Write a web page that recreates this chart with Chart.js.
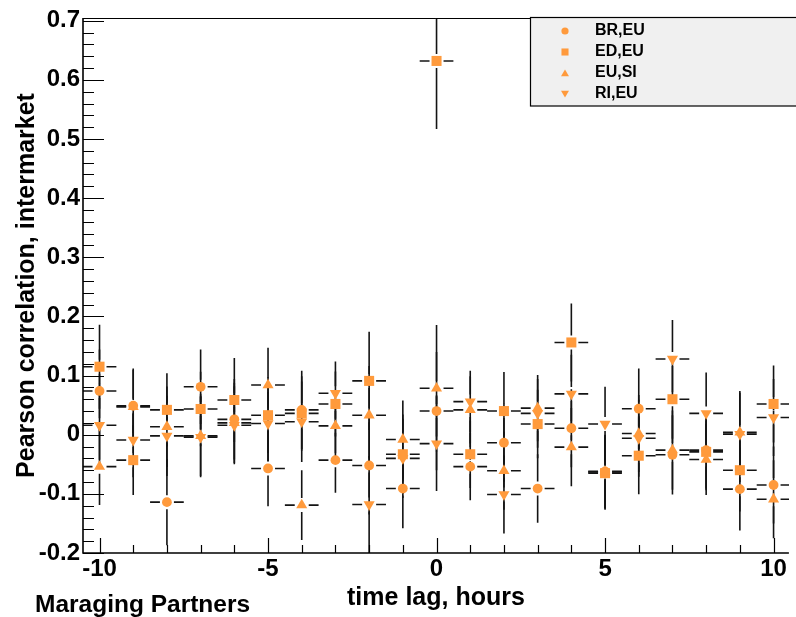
<!DOCTYPE html>
<html>
<head>
<meta charset="utf-8">
<script src="https://cdn.jsdelivr.net/npm/chart.js@4.4.1/dist/chart.umd.min.js"></script>
<style>
  body { margin: 0; background: #fff; }
  #contenedor { width: 796px; height: 617px; }
</style>
</head>
<body>
<div id="contenedor"><canvas id="correlacion"></canvas></div>
<script>
// desfase en horas
const lags = [-10, -9, -8, -7, -6, -5, -4, -3, -2, -1, 0, 1, 2, 3, 4, 5, 6, 7, 8, 9, 10]

// correlacion de Pearson por par de mercados
const brEu = [0.074, 0.049, -0.114, 0.081, 0.026, -0.057, 0.042, -0.043, -0.052, -0.091, 0.040, -0.054, -0.0135, -0.091, 0.011, -0.062, 0.044, -0.034, -0.026, -0.092, -0.085]
const edEu = [0.115, -0.043, 0.042, 0.0435, 0.0587, 0.033, 0.036, 0.052, 0.091, -0.033, 0.632, -0.033, 0.040, 0.018, 0.156, -0.065, -0.0355, 0.060, -0.029, -0.060, 0.052]
const euSi = [-0.054, 0.047, 0.0135, -0.002, 0.020, 0.084, -0.119, 0.015, 0.033, -0.008, 0.0785, 0.042, -0.061, 0.045, -0.021, -0.063, 0.002, -0.026, -0.042, 0.004, -0.109]
const riEu = [0.016, -0.009, -0.002, -0.004, 0.016, 0.019, 0.022, 0.070, -0.118, -0.040, -0.015, 0.056, -0.101, 0.036, 0.069, 0.018, -0.006, 0.128, 0.036, 0.001, 0.029]

// errores (barras verticales)
const errBrEu = [0.07, 0.063, 0.073, 0.063, 0.068, 0.064, 0.066, 0.055, 0.083, 0.067, 0.10, 0.057, 0.066, 0.058, 0.066, 0.062, 0.068, 0.067, 0.065, 0.07, 0.065]
const errEdEu = [0.071, 0.059, 0.062, 0.063, 0.071, 0.064, 0.063, 0.055, 0.083, 0.067, 0.115, 0.057, 0.066, 0.058, 0.066, 0.062, 0.065, 0.067, 0.065, 0.07, 0.065]
const errEuSi = [0.065, 0.063, 0.068, 0.068, 0.068, 0.063, 0.059, 0.055, 0.083, 0.066, 0.107, 0.057, 0.066, 0.056, 0.066, 0.062, 0.065, 0.067, 0.06, 0.07, 0.066]
const errRiEu = [0.07, 0.063, 0.068, 0.068, 0.066, 0.064, 0.068, 0.054, 0.082, 0.067, 0.08, 0.052, 0.066, 0.058, 0.066, 0.063, 0.065, 0.066, 0.069, 0.07, 0.065]

const xTicks = [-10, -5, 0, 5, 10]
const yTicks = [-0.2, -0.1, 0, 0.1, 0.2, 0.3, 0.4, 0.5, 0.6, 0.7]

const naranja = '#ff9a3c'

const serie = (nombre, valores, errores, estilo, radio, giro) => ({
    label: nombre,
    data: lags.map((x, i) => ({ x: x, y: valores[i] })),
    errores: errores,
    pointStyle: estilo,
    pointRadius: radio,
    pointRotation: giro,
    pointBackgroundColor: naranja,
    pointBorderWidth: 0,
    showLine: false
})

const datasets = [
    serie('BR,EU', brEu, errBrEu, 'circle', 4.9, 0),
    serie('ED,EU', edEu, errEdEu, 'rect', 7.1, 0),
    serie('EU,SI', euSi, errEuSi, 'triangle', 6.4, 0),
    serie('RI,EU', riEu, errRiEu, 'triangle', 6.4, 180)
]

const marcos = {
    id: 'marcos',
    beforeDatasetsDraw(chart) {
        const { ctx, chartArea: a, scales: { x, y } } = chart
        ctx.save()
        ctx.beginPath()
        ctx.rect(a.left, a.top, a.right - a.left, a.bottom - a.top)
        ctx.clip()
        ctx.strokeStyle = '#141414'
        ctx.lineWidth = 1.6
        const hueco = 7
        chart.data.datasets.forEach(ds => {
            ds.data.forEach((p, i) => {
                const px = x.getPixelForValue(p.x)
                const py = y.getPixelForValue(p.y)
                const arriba = y.getPixelForValue(p.y + ds.errores[i])
                const abajo = y.getPixelForValue(p.y - ds.errores[i])
                const izq = x.getPixelForValue(p.x - 0.5)
                const der = x.getPixelForValue(p.x + 0.5)
                ctx.beginPath()
                if (py - hueco > arriba) { ctx.moveTo(px, arriba); ctx.lineTo(px, py - hueco) }
                if (abajo > py + hueco) { ctx.moveTo(px, py + hueco); ctx.lineTo(px, abajo) }
                ctx.moveTo(izq, py); ctx.lineTo(px - hueco, py)
                ctx.moveTo(px + hueco, py); ctx.lineTo(der, py)
                ctx.stroke()
            })
        })
        ctx.restore()
    },
    afterDraw(chart) {
        const { ctx, chartArea: a, scales: { x, y } } = chart
        ctx.save()
        ctx.strokeStyle = '#000'
        // marco
        ctx.lineWidth = 1
        ctx.beginPath()
        ctx.moveTo(a.left, a.top + 0.5); ctx.lineTo(a.right, a.top + 0.5)
        ctx.stroke()
        ctx.lineWidth = 1.6
        ctx.beginPath()
        ctx.moveTo(a.left, a.top); ctx.lineTo(a.left, a.bottom)
        ctx.lineTo(a.right, a.bottom)
        ctx.stroke()
        // ticks eje x
        ctx.lineWidth = 1.2
        ctx.beginPath()
        for (let v = -10; v <= 10; v++) {
            const px = Math.round(x.getPixelForValue(v)) + 0.5
            const largo = v % 5 === 0 ? 15 : 8
            ctx.moveTo(px, a.bottom); ctx.lineTo(px, a.bottom - largo)
        }
        // ticks eje y
        for (let k = -10; k <= 35; k++) {
            const py = Math.round(y.getPixelForValue(k * 0.02)) + 0.5
            const largo = k % 5 === 0 ? 21 : 11
            ctx.moveTo(a.left, py); ctx.lineTo(a.left + largo, py)
        }
        ctx.stroke()

        // leyenda
        ctx.fillStyle = '#f0f0f0'
        ctx.fillRect(530.5, 17.5, 270, 88.5)
        ctx.lineWidth = 1.2
        ctx.strokeRect(530.5, 17.5, 270, 88.5)
        const radios = [3.6, 5, 4.6, 4.6]
        chart.data.datasets.forEach((ds, i) => {
            const fy = 31 + i * 21
            ctx.fillStyle = naranja
            Chart.helpers.drawPoint(ctx, {
                pointStyle: ds.pointStyle,
                radius: radios[i],
                rotation: ds.pointRotation,
                borderWidth: 0
            }, 565, fy + (ds.pointStyle === 'triangle' ? (ds.pointRotation ? -1 : 1) : 0))
            ctx.fillStyle = '#000'
            ctx.font = 'bold 16px "Liberation Sans", Arial, sans-serif'
            ctx.textBaseline = 'middle'
            ctx.textAlign = 'left'
            ctx.fillText(ds.label, 595, fy)
        })

        ctx.font = 'bold 24.5px "Liberation Sans", Arial, sans-serif'
        ctx.textBaseline = 'alphabetic'
        ctx.fillStyle = '#000'
        ctx.fillText('Maraging Partners', 35, 611.5)
        ctx.restore()
    }
}

const fuente = { family: '"Liberation Sans", Arial, sans-serif', weight: 'bold', size: 24 }
const fuenteTitulo = { family: '"Liberation Sans", Arial, sans-serif', weight: 'bold', size: 25 }

const ctx = document.getElementById('correlacion')
let grafico = new Chart(ctx, {
    type: 'scatter',
    data: { datasets: datasets },
    options: {
        responsive: true,
        maintainAspectRatio: false,
        animation: false,
        devicePixelRatio: 1,
        layout: { padding: { top: 18, left: 0, right: 0, bottom: 0 } },
        plugins: {
            legend: { display: false },
            tooltip: { enabled: false }
        },
        scales: {
            x: {
                type: 'linear',
                min: -10.49,
                max: 10.455,
                afterFit: (s) => { s.height = 64 },
                afterBuildTicks: (s) => { s.ticks = xTicks.map(v => ({ value: v })) },
                grid: { display: false, drawTicks: false },
                border: { display: false },
                ticks: {
                    color: '#000',
                    font: fuente,
                    padding: 2,
                    maxRotation: 0,
                    callback: (v) => String(v)
                },
                title: {
                    display: true,
                    text: 'time lag, hours',
                    color: '#000',
                    font: fuenteTitulo,
                    padding: { top: 0, bottom: 4 }
                }
            },
            y: {
                type: 'linear',
                min: -0.2,
                max: 0.7046,
                afterFit: (s) => { s.width = 83 },
                afterBuildTicks: (s) => { s.ticks = yTicks.map(v => ({ value: v })) },
                grid: { display: false, drawTicks: false },
                border: { display: false },
                ticks: {
                    color: '#000',
                    font: fuente,
                    padding: 3,
                    callback: (v) => String(v)
                },
                title: {
                    display: true,
                    text: 'Pearson correlation, intermarket',
                    color: '#000',
                    font: fuenteTitulo,
                    padding: { top: 12, bottom: 0 }
                }
            }
        }
    },
    plugins: [marcos]
})
</script>
</body>
</html>
